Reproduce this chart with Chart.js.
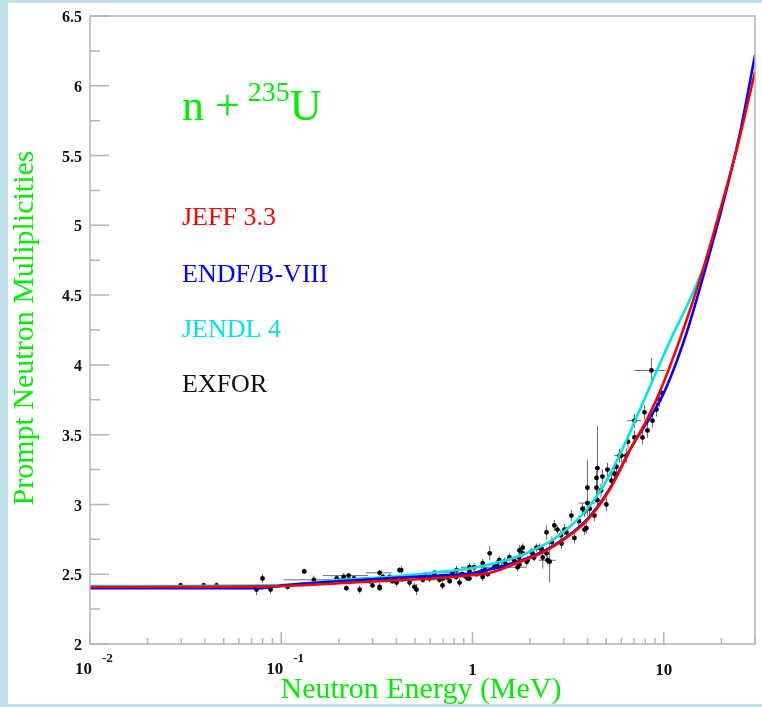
<!DOCTYPE html>
<html>
<head>
<meta charset="utf-8">
<script src="https://cdn.jsdelivr.net/npm/chart.js@4.4.1/dist/chart.umd.min.js"></script>
<style>
  html, body { margin: 0; padding: 0; background: #c0e1e7; }
  #nubar { display: block; }
</style>
</head>
<body>
<canvas id="nubar" width="762" height="707"></canvas>
<script>
// Prompt neutron multiplicity of n + U-235, evaluations vs measurements

// JEFF 3.3
const jeffE  = [0.01, 0.1, 0.2, 0.415, 0.67, 1, 1.23, 1.76, 2.24, 2.62, 3.94, 5.2, 6.78, 7.93, 9.38, 12.2, 15.9, 19.5, 24.3, 30];
const jeffNu = [2.408, 2.415, 2.435, 2.458, 2.473, 2.494, 2.509, 2.587, 2.645, 2.695, 2.881, 3.103, 3.411, 3.576, 3.784, 4.192, 4.665, 5.087, 5.567, 6.10];

// ENDF/B-VIII
const endfE  = [0.01, 0.0789, 0.1, 0.2, 0.415, 0.67, 1, 1.76, 2.24, 2.62, 3.94, 5.2, 6.78, 10, 13.0, 16.1, 20.3, 24.9, 30];
const endfNu = [2.40, 2.40, 2.418, 2.45, 2.476, 2.49, 2.509, 2.595, 2.652, 2.70, 2.888, 3.11, 3.411, 3.798, 4.206, 4.636, 5.145, 5.646, 6.219];

// JENDL 4 (ends at 20 MeV)
const jendlE  = [0.01, 0.1, 0.203, 0.415, 0.672, 1, 1.76, 2.24, 2.62, 3.21, 3.94, 4.9, 6.08, 7.93, 11.2, 13.4, 15.9, 20];
const jendlNu = [2.415, 2.423, 2.458, 2.487, 2.516, 2.544, 2.630, 2.695, 2.745, 2.838, 2.960, 3.146, 3.397, 3.755, 4.221, 4.44, 4.679, 5.102];

// EXFOR measurements: energy (MeV), nu, error on nu, error on energy
const exforE = [
  0.0298, 0.0393, 0.0459, 0.0743, 0.0798, 0.0879, 0.108, 0.132, 0.148, 0.195,
  0.212, 0.219, 0.225, 0.257, 0.272, 0.300, 0.327, 0.327, 0.355, 0.368,
  0.401, 0.415, 0.431, 0.469, 0.497, 0.528, 0.561, 0.596, 0.633, 0.672,
  0.697, 0.740, 0.786, 0.855, 0.908, 0.964, 1.02, 1.09, 1.16, 1.23,
  1.30, 1.38, 1.47, 1.56, 1.72, 1.83, 1.94, 2.06, 2.16, 1.83,
  1.92, 2.24, 2.44, 2.47, 2.53, 2.44, 2.68, 2.78, 2.92, 3.03,
  3.41, 3.29, 3.76, 3.85, 3.94, 3.99, 3.99, 4.34, 4.50, 4.45,
  4.50, 4.78, 5.01, 5.08, 5.33, 5.52, 5.66, 5.87, 6.01, 6.38,
  8.62, 7.03, 7.93, 7.03, 8.73, 9.16, 9.50, 9.73, 8.22, 7.74,
  0.327, 0.424, 0.510, 0.964, 1.13, 0.825, 0.964, 1.13, 1.38, 1.76,
  1.76, 2.03, 2.33, 3.85, 4.45,
  0.23, 0.24, 0.29, 0.34, 0.38, 0.45, 0.55, 0.62, 0.70, 0.76,
  0.82, 0.88, 0.94, 1.05, 1.12, 1.20, 1.34, 1.42, 1.50, 1.65,
  1.75, 2.10, 2.30, 2.60, 2.90, 3.10, 3.60, 4.10, 4.70, 6.50
];
const exforNu = [
  2.42, 2.42, 2.42, 2.39, 2.47, 2.39, 2.41, 2.52, 2.46, 2.47,
  2.48, 2.40, 2.49, 2.39, 2.46, 2.42, 2.51, 2.41, 2.46, 2.48,
  2.44, 2.53, 2.47, 2.44, 2.41, 2.48, 2.49, 2.47, 2.51, 2.46,
  2.42, 2.48, 2.51, 2.44, 2.49, 2.52, 2.55, 2.51, 2.53, 2.65,
  2.55, 2.54, 2.59, 2.62, 2.55, 2.65, 2.60, 2.65, 2.69, 2.69,
  2.59, 2.69, 2.65, 2.60, 2.59, 2.80, 2.85, 2.82, 2.72, 2.82,
  2.76, 2.92, 2.97, 2.95, 2.83, 3.01, 3.12, 2.92, 3.03, 3.19,
  3.26, 3.20, 3.00, 3.25, 3.17, 3.22, 3.27, 3.35, 3.35, 3.35,
  3.96, 3.60, 3.66, 3.48, 3.60, 3.68, 3.75, 3.80, 3.53, 3.48,
  2.40, 2.53, 2.39, 2.47, 2.48, 2.53, 2.55, 2.58, 2.60, 2.67,
  2.57, 2.66, 2.62, 2.82, 3.12,
  2.45, 2.47, 2.45, 2.48, 2.45, 2.48, 2.46, 2.48, 2.47, 2.45,
  2.48, 2.50, 2.47, 2.50, 2.52, 2.50, 2.57, 2.55, 2.57, 2.60,
  2.62, 2.62, 2.68, 2.73, 2.78, 2.80, 2.88, 2.97, 3.10, 3.45
];
const exforDNu = [
  0.02, 0.02, 0.02, 0.04, 0.03, 0.03, 0.02, 0.02, 0.03, 0.02,
  0.03, 0.02, 0.02, 0.03, 0.02, 0.02, 0.02, 0.03, 0.02, 0.02,
  0.03, 0.02, 0.02, 0.03, 0.03, 0.02, 0.02, 0.03, 0.02, 0.02,
  0.03, 0.02, 0.02, 0.03, 0.02, 0.02, 0.03, 0.02, 0.02, 0.05,
  0.03, 0.02, 0.03, 0.03, 0.03, 0.03, 0.03, 0.03, 0.03, 0.03,
  0.03, 0.03, 0.03, 0.03, 0.15, 0.05, 0.04, 0.03, 0.04, 0.04,
  0.04, 0.04, 0.04, 0.04, 0.04, 0.04, 0.20, 0.04, 0.05, 0.05,
  0.30, 0.05, 0.05, 0.05, 0.05, 0.05, 0.05, 0.05, 0.05, 0.05,
  0.09, 0.05, 0.05, 0.05, 0.05, 0.05, 0.05, 0.05, 0.05, 0.05,
  0.02, 0.03, 0.04, 0.02, 0.03, 0.03, 0.03, 0.03, 0.03, 0.04,
  0.03, 0.03, 0.08, 0.04, 0.05,
  0.02, 0.02, 0.02, 0.02, 0.02, 0.02, 0.02, 0.02, 0.02, 0.02,
  0.02, 0.02, 0.02, 0.02, 0.03, 0.02, 0.03, 0.03, 0.03, 0.03,
  0.03, 0.03, 0.03, 0.04, 0.04, 0.04, 0.04, 0.05, 0.05, 0.05
];
const exforDE = [
  0, 0, 0, 0, 0, 0, 0, 0, 0.045, 0,
  0, 0, 0.06, 0, 0, 0, 0.05, 0, 0, 0.05,
  0, 0, 0, 0, 0, 0.08, 0, 0, 0, 0.1,
  0, 0, 0.12, 0, 0, 0, 0.15, 0, 0, 0,
  0.15, 0, 0, 0, 0.2, 0, 0, 0, 0, 0,
  0, 0, 0, 0.25, 0, 0, 0, 0, 0, 0,
  0, 0, 0, 0, 0, 0.4, 0, 0, 0, 0,
  0, 0, 0, 0, 0, 0, 0, 0.35, 0.45, 0,
  1.6, 0.6, 0, 0, 0, 0, 0, 0, 0, 0,
  0, 0, 0, 0, 0, 0, 0, 0, 0, 0,
  0, 0, 0, 0, 0,
  0, 0.05, 0, 0, 0.06, 0, 0, 0, 0, 0,
  0, 0, 0, 0, 0, 0, 0, 0, 0, 0,
  0, 0, 0, 0, 0, 0, 0, 0, 0, 0
];

// axis ticks
const yMajor = [2, 2.5, 3, 3.5, 4, 4.5, 5, 5.5, 6, 6.5];
const yMinor = [2.25, 2.75, 3.25, 3.75, 4.25, 4.75, 5.25, 5.75, 6.25];
const xDecades = [0.01, 0.1, 1, 10];
const xLabels = [['10', '-2'], ['10', '-1'], ['1', ''], ['10', '']];

const serif = '"Liberation Serif", "Times New Roman", serif';
const green = '#00ee00';

const toXY = (xs, ys) => xs.map((x, i) => ({ x: x, y: ys[i] }));

const rootFrame = {
  id: 'rootFrame',
  beforeDraw(chart) {
    const ctx = chart.ctx;
    ctx.save();
    ctx.fillStyle = '#c0e1e7';
    ctx.fillRect(0, 0, chart.width, chart.height);
    ctx.fillStyle = '#ffffff';
    ctx.fillRect(8, 3, chart.width - 8, 701);
    ctx.restore();
  },
  beforeDatasetsDraw(chart) {
    // error bars under the markers
    const ctx = chart.ctx, xs = chart.scales.x, ys = chart.scales.y;
    const a = chart.chartArea;
    ctx.save();
    ctx.beginPath();
    ctx.rect(a.left, a.top, a.right - a.left, a.bottom - a.top);
    ctx.clip();
    ctx.strokeStyle = '#6a6a6a';
    ctx.lineWidth = 1;
    ctx.beginPath();
    exforE.forEach((e, i) => {
      const px = xs.getPixelForValue(e);
      const py = ys.getPixelForValue(exforNu[i]);
      const dv = exforDNu[i], de = exforDE[i];
      if (dv > 0) {
        ctx.moveTo(px, ys.getPixelForValue(exforNu[i] - dv));
        ctx.lineTo(px, ys.getPixelForValue(exforNu[i] + dv));
      }
      if (de > 0) {
        ctx.moveTo(xs.getPixelForValue(e - de), py);
        ctx.lineTo(xs.getPixelForValue(e + de), py);
      }
    });
    ctx.stroke();
    ctx.restore();
  },
  afterDraw(chart) {
    const ctx = chart.ctx, xs = chart.scales.x, ys = chart.scales.y;
    const a = chart.chartArea;
    ctx.save();

    // frame
    ctx.strokeStyle = '#b4b4b4';
    ctx.lineWidth = 1.5;
    ctx.strokeRect(a.left, a.top, a.right - a.left, a.bottom - a.top);

    // y ticks
    ctx.beginPath();
    yMajor.forEach(v => {
      const py = ys.getPixelForValue(v);
      ctx.moveTo(a.left, py); ctx.lineTo(a.left + 19, py);
    });
    yMinor.forEach(v => {
      const py = ys.getPixelForValue(v);
      ctx.moveTo(a.left, py); ctx.lineTo(a.left + 10, py);
    });
    // x ticks, log decades with 2..9 subdivisions
    xDecades.forEach(d => {
      for (let k = 1; k <= 9; k++) {
        const e = d * k;
        if (e > xs.max) break;
        const px = xs.getPixelForValue(e);
        ctx.moveTo(px, a.bottom);
        ctx.lineTo(px, a.bottom - (k === 1 ? 12 : 6));
      }
    });
    ctx.stroke();

    // y tick labels
    ctx.fillStyle = '#111';
    ctx.font = 'bold 16px ' + serif;
    ctx.textAlign = 'right';
    ctx.textBaseline = 'middle';
    yMajor.forEach(v => {
      ctx.fillText(String(v), a.left - 8, ys.getPixelForValue(v) + 2);
    });

    // x tick labels
    ctx.textBaseline = 'alphabetic';
    xDecades.forEach((d, i) => {
      const px = xs.getPixelForValue(d);
      const [base, expo] = xLabels[i];
      ctx.font = 'bold 17px ' + serif;
      if (expo) {
        ctx.textAlign = 'left';
        ctx.fillText(base, px - 15, 674);
        ctx.font = 'bold 13px ' + serif;
        ctx.fillText(expo, px + 12, 662);
      } else {
        ctx.textAlign = 'center';
        ctx.fillText(base, px, 675);
      }
    });

    // axis titles
    ctx.fillStyle = green;
    ctx.font = '30px ' + serif;
    ctx.textAlign = 'center';
    ctx.fillText('Neutron Energy (MeV)', 421, 698);
    ctx.save();
    ctx.translate(33, 328);
    ctx.rotate(-Math.PI / 2);
    ctx.fillText('Prompt Neutron Muliplicities', 0, 0);
    ctx.restore();

    // reaction label
    ctx.textAlign = 'left';
    ctx.font = '44px ' + serif;
    ctx.fillText('n + ', 182, 120);
    let cx = 182 + ctx.measureText('n + ').width - 3;
    ctx.font = '28px ' + serif;
    ctx.fillText('235', cx, 101);
    cx += ctx.measureText('235').width;
    ctx.font = '44px ' + serif;
    ctx.fillText('U', cx, 120);

    // legend entries
    ctx.font = '26px ' + serif;
    const entries = [['JEFF 3.3', '#ff0000', 225], ['ENDF/B-VIII', '#0000ff', 282], ['JENDL 4', '#00e6e6', 337], ['EXFOR', '#111111', 392]];
    entries.forEach(([t, c, y]) => {
      ctx.fillStyle = c;
      ctx.fillText(t, 182, y);
    });
    ctx.restore();
  }
};

const lineSet = (label, xs, ys, color, order) => ({
  label: label,
  data: toXY(xs, ys),
  showLine: true,
  borderColor: color,
  backgroundColor: color,
  borderWidth: 2.6,
  pointRadius: 0,
  cubicInterpolationMode: 'monotone',
  order: order
});

new Chart(document.getElementById('nubar'), {
  type: 'scatter',
  data: {
    datasets: [
      lineSet('JEFF 3.3', jeffE, jeffNu, '#ff0000', 0),
      lineSet('ENDF/B-VIII', endfE, endfNu, '#0000ff', 1),
      lineSet('JENDL 4', jendlE, jendlNu, '#00e6e6', 2),
      {
        label: 'EXFOR',
        data: toXY(exforE, exforNu),
        pointRadius: 2.4,
        pointBackgroundColor: '#000',
        pointBorderWidth: 0,
        order: 3
      }
    ]
  },
  options: {
    responsive: false,
    animation: false,
    layout: { padding: { left: 90, top: 16, right: 7, bottom: 63 } },
    plugins: { legend: { display: false }, tooltip: { enabled: false } },
    scales: {
      x: { type: 'logarithmic', min: 0.01, max: 30, display: false },
      y: { type: 'linear', min: 2, max: 6.5, display: false }
    }
  },
  plugins: [rootFrame]
});
</script>
</body>
</html>
